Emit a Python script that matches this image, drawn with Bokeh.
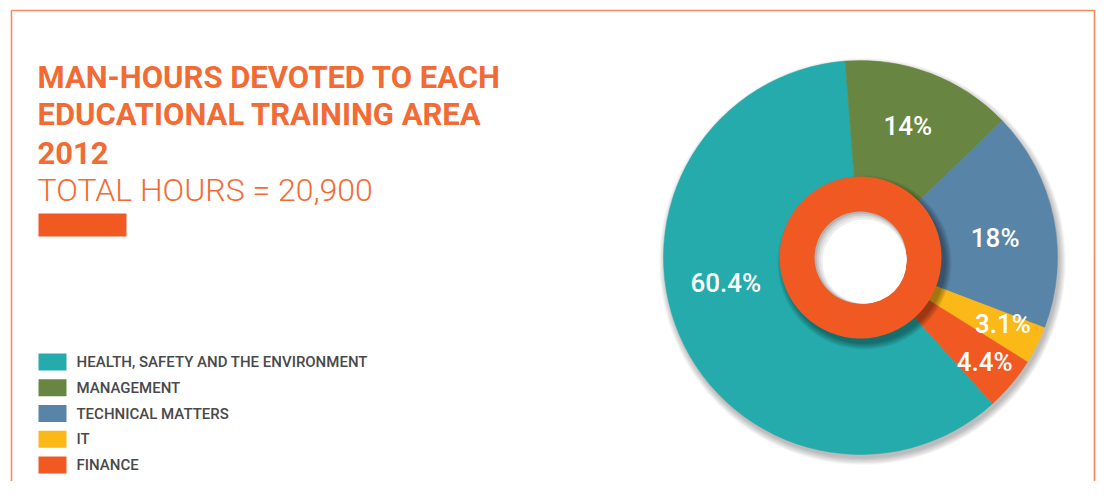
import math
from bokeh.plotting import figure
from bokeh.models import Range1d, ColumnDataSource
from bokeh.core.properties import value
from bokeh.embed import file_html
from bokeh.resources import INLINE

# ---------------- data ----------------
categories = ["HEALTH, SAFETY AND THE ENVIRONMENT", "MANAGEMENT", "TECHNICAL MATTERS", "IT", "FINANCE"]
shares = [60.4, 14.0, 18.0, 3.1, 4.4]
share_labels = ["60.4%", "14%", "18%", "3.1%", "4.4%"]
colors = ["#25ABAB", "#688642", "#5884A8", "#FBB817", "#F05A22"]

title_lines = ["MAN-HOURS DEVOTED TO EACH", "EDUCATIONAL TRAINING AREA", "2012"]
subtitle = "TOTAL HOURS = 20,900"

# ---------------- layout ----------------
W, H = 1096, 481
def X(ix):
    return ix
def Y(iy):
    return H - iy

ORANGE_TXT = "#F26B35"
ORANGE = "#F05A22"

p = figure(width=W, height=H, x_range=Range1d(0, W), y_range=Range1d(0, H),
           output_backend="svg", toolbar_location=None, min_border=0,
           x_axis_type=None, y_axis_type=None)
p.grid.visible = False
p.outline_line_color = None
p.background_fill_color = "white"
p.border_fill_color = "white"

# frame border
p.line(x=[X(11), X(11), X(1094), X(1094)], y=[-5, Y(10), Y(10), -5], line_color="#F58B5C", line_width=1.6)

# titles
title_base = [77, 114, 152]
for t, b in zip(title_lines, title_base):
    p.text(x=[X(37)], y=[Y(b)], text=[t], text_color=ORANGE_TXT, text_font=value("Roboto"),
           text_font_style="bold", text_font_size="31px", text_align="left", text_baseline="alphabetic")
p.text(x=[X(37)], y=[Y(189)], text=[subtitle], text_color=ORANGE_TXT, text_font=value("Roboto Light"),
       text_font_style="normal", text_font_size="32px", text_align="left", text_baseline="alphabetic")

# orange bar
p.quad(left=[X(38)], right=[X(126)], bottom=[Y(236)], top=[Y(213)], fill_color=ORANGE, line_color=None)

# legend
row0, step = 361.5, 25.75
leg_y = [Y(row0 + i * step) for i in range(len(categories))]
p.rect(x=[X(52)] * len(categories), y=leg_y, width=28, height=17, fill_color=colors, line_color=None)
p.text(x=[X(76)] * len(categories), y=leg_y, text=categories, text_color="#4A4A4C",
       text_font=value("Roboto Medium"), text_font_style="normal", text_font_size="15px",
       text_align="left", text_baseline="middle")

# ---------------- pie ----------------
cx, cy, R = X(860), Y(257), 197
total = sum(shares)
start_clock = 137.9  # degrees clockwise from 12 o'clock
starts, ends, mids = [], [], []
a = start_clock
for s in shares:
    b = a + 360.0 * s / total
    starts.append(math.radians(90 - b))
    ends.append(math.radians(90 - a))
    mids.append((a + b) / 2)
    a = b

# pie drop shadow
for k in range(8):
    p.circle(x=[cx + 2], y=[cy - 4], radius=R + k * 0.9, fill_color="black", fill_alpha=0.035, line_color=None)

src = ColumnDataSource(dict(start=starts, end=ends, color=colors))
p.wedge(x=cx, y=cy, radius=R, start_angle="start", end_angle="end", fill_color="color",
        line_color="color", line_width=0.5, source=src)

# ring shadow on slices
for k in range(7):
    p.circle(x=[cx + 4], y=[cy - 5], radius=81 + k * 1.0, fill_color="black", fill_alpha=0.06, line_color=None)

# ring
p.circle(x=[cx], y=[cy], radius=81, fill_color=ORANGE, line_color=None)
# inner hole with inner shadow
for off, r, c in [(0, 46, "#b3b3b3"), (1, 45, "#cbcbcb"), (2, 44, "#dfdfdf"), (3, 43, "#eeeeee"), (4, 42, "#ffffff")]:
    p.circle(x=[cx + off], y=[cy - off], radius=r, fill_color=c, line_color=None)

# slice labels
label_r = [137, 140, 136, 157, 162]
label_shift = [12.6, -1.0, 3.5, -1.5, 0.0]
lx = [cx + r * math.sin(math.radians(m + d)) for r, m, d in zip(label_r, mids, label_shift)]
ly = [cy + r * math.cos(math.radians(m + d)) for r, m, d in zip(label_r, mids, label_shift)]
p.text(x=lx, y=ly, text=share_labels, text_color="white", text_font=value("Roboto Medium"),
       text_font_style="normal", text_font_size="26px", text_align="center", text_baseline="middle")

open("out.html", "w").write(file_html(p, INLINE))
